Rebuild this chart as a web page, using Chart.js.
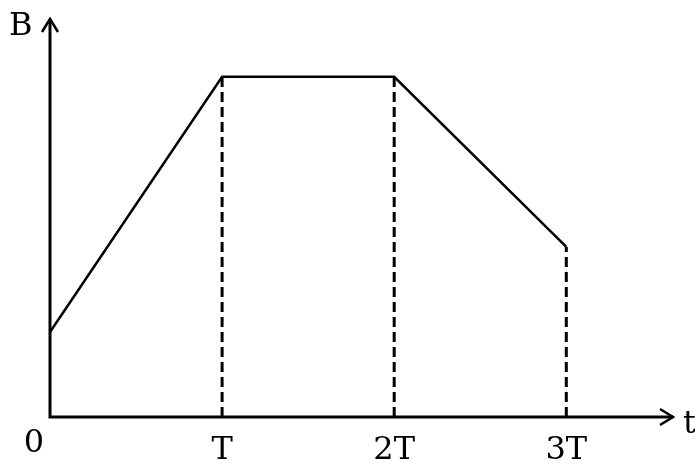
<!DOCTYPE html>
<html>
<head>
<meta charset="utf-8">
<script src="https://cdn.jsdelivr.net/npm/chart.js@4"></script>
<style>
  html, body { margin: 0; padding: 0; background: #fff; }
  #wrap { width: 695px; height: 467px; }
</style>
</head>
<body>
<div id="wrap"><canvas id="myChart" width="695" height="467"></canvas></div>
<script>
// Datos del gráfico (t en unidades de T)
const tValues = [0, 1, 2, 3];
const bValues = [1, 4, 4, 2];
const tickLabels = ['0', 'T', '2T', '3T'];
const dashedAt = [1, 2, 3];

const curve = tValues.map((t, i) => ({ x: t, y: bValues[i] }));

// Líneas discontinuas verticales
const dashSets = dashedAt.map(t => ({
    data: [{ x: t, y: 0 }, { x: t, y: bValues[tValues.indexOf(t)] }],
    borderColor: '#000',
    borderWidth: 3,
    borderDash: [10, 5],
    pointRadius: 0,
    fill: false
}));

const FONT = '32px "DejaVu Serif"';

// Ejes con flechas y textos
const axesPlugin = {
    id: 'axesPlugin',
    afterDatasetsDraw(chart) {
        const ctx = chart.ctx;
        const xs = chart.scales.x, ys = chart.scales.y;
        const x0 = xs.getPixelForValue(0);
        const y0 = ys.getPixelForValue(0);
        const xEnd = xs.right;
        const yTop = ys.top;

        ctx.save();
        ctx.strokeStyle = '#000';
        ctx.lineWidth = 3;
        ctx.lineCap = 'butt';
        ctx.beginPath();
        ctx.moveTo(x0, y0 + 1.5);
        ctx.lineTo(x0, yTop);
        ctx.moveTo(x0 - 1.5, y0);
        ctx.lineTo(xEnd, y0);
        ctx.stroke();

        // puntas de flecha
        ctx.lineWidth = 2.5;
        ctx.beginPath();
        ctx.moveTo(x0 - 8, yTop + 13);
        ctx.lineTo(x0, yTop);
        ctx.lineTo(x0 + 8, yTop + 13);
        ctx.moveTo(xEnd - 13, y0 - 8);
        ctx.lineTo(xEnd, y0);
        ctx.lineTo(xEnd - 13, y0 + 8);
        ctx.stroke();

        ctx.fillStyle = '#000';
        ctx.font = FONT;
        ctx.textBaseline = 'alphabetic';

        // etiquetas del eje t
        ctx.textAlign = 'center';
        tValues.forEach((t, i) => {
            if (t === 0) {
                ctx.fillText(tickLabels[i], x0 - 16, y0 + 35);
            } else {
                ctx.fillText(tickLabels[i], xs.getPixelForValue(t), y0 + 42);
            }
        });

        ctx.textAlign = 'left';
        ctx.fillText('B', 9, 35);
        ctx.fillText('t', xEnd + 10, y0 + 16);
        ctx.restore();
    }
};

const ctx = document.getElementById('myChart').getContext('2d');
let myChart = new Chart(ctx, {
    type: 'line',
    data: {
        datasets: [{
            data: curve,
            borderColor: '#000',
            borderWidth: 2.5,
            pointRadius: 0,
            tension: 0,
            fill: false
        }].concat(dashSets)
    },
    options: {
        responsive: false,
        animation: false,
        layout: { padding: { left: 50, right: 22, top: 19, bottom: 50 } },
        plugins: { legend: { display: false }, tooltip: { enabled: false } },
        scales: {
            x: { type: 'linear', min: 0, max: 3.62, display: false },
            y: { type: 'linear', min: 0, max: 4.68, display: false }
        }
    },
    plugins: [axesPlugin]
});
</script>
</body>
</html>
